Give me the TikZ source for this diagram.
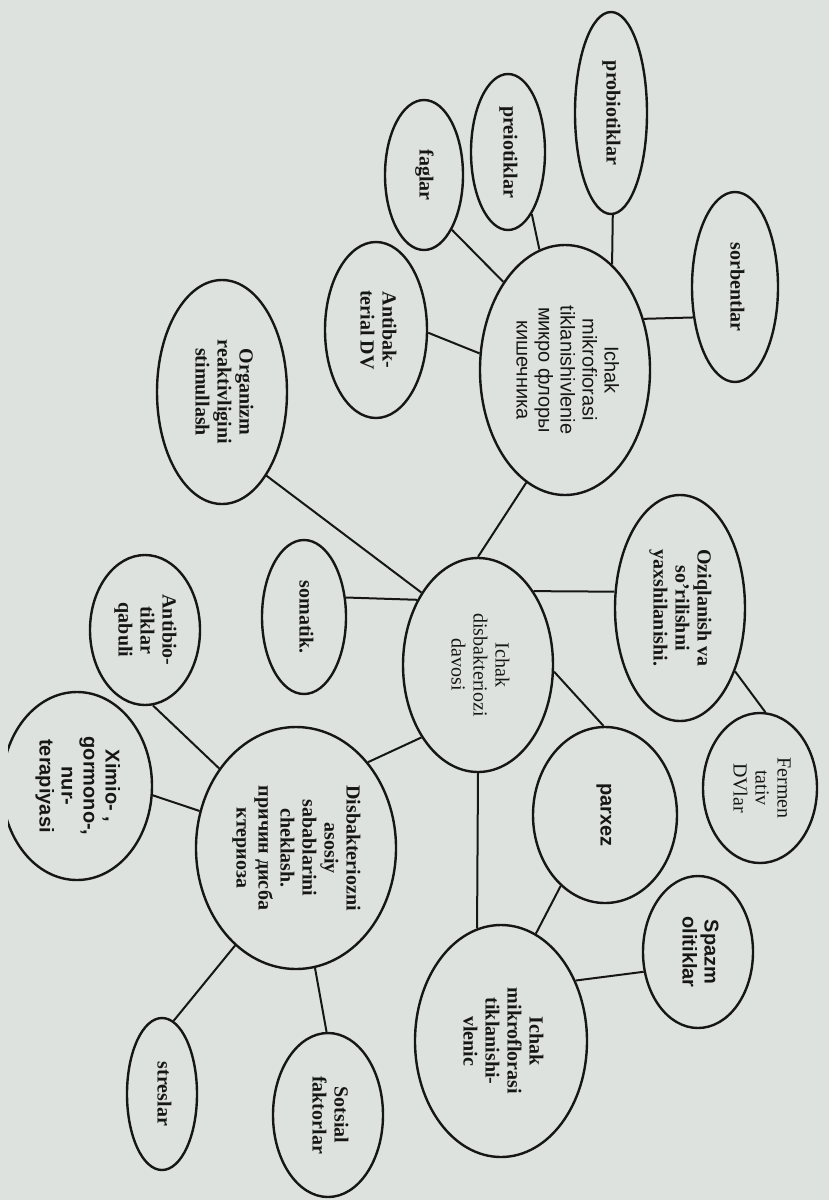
\documentclass[tikz,border=0pt]{standalone}
\usepackage{fontspec}
\setmainfont{Liberation Serif}
\setsansfont{Liberation Sans}
\usepackage{graphicx}
\usetikzlibrary{shapes.geometric}
\definecolor{paper}{RGB}{222,226,223}
\definecolor{ink}{RGB}{22,22,22}
\newcommand{\vlab}[1]{\rotatebox{-90}{\begin{tabular}{@{}c@{}}#1\end{tabular}}}

\begin{document}
\begin{tikzpicture}[x=0.5pt,y=-0.5pt,
  bub/.style={draw=ink,ellipse,line width=1.2pt,inner sep=0pt,text=ink,font=\fontsize{10}{11}\selectfont},
  lnk/.style={draw=ink,line width=1pt}]
\fill[paper] (0,0) rectangle (829,1200);
\useasboundingbox (0,0) rectangle (829,1200);
\node[bub,minimum width=36pt,minimum height=101pt] (probio) at (611,113) {\vlab{\bfseries probiotiklar}};
\node[bub,minimum width=37pt,minimum height=78pt] (preio) at (508,152) {\vlab{\bfseries preiotiklar}};
\node[bub,minimum width=39pt,minimum height=75pt] (faglar) at (424,175) {\vlab{\bfseries faglar}};
\node[bub,minimum width=43pt,minimum height=95pt] (sorbent) at (735,287) {\vlab{\bfseries sorbentlar}};
\node[bub,minimum width=85pt,minimum height=125pt] (mikroTop) at (565,370) {\vlab{\sffamily Ichak\\ \sffamily mikrofiorasi\\ \sffamily tiklanishivlenie\\ \sffamily микро флоры\\ \sffamily кишечника}};
\node[bub,minimum width=51pt,minimum height=88pt] (antibak) at (376,330) {\vlab{\bfseries Antibak-\\ \bfseries terial DV}};
\node[bub,minimum width=65pt,minimum height=112pt] (organizm) at (222,392) {\vlab{\bfseries Organizm\\ \bfseries reaktivligini\\ \bfseries stimullash}};
\node[bub,minimum width=65pt,minimum height=113pt] (oziq) at (680,608) {\vlab{\bfseries Oziqlanish va\\ \bfseries so’rilishni\\ \bfseries yaxshilanishi.}};
\node[bub,minimum width=42pt,minimum height=77pt] (somatik) at (304,617) {\vlab{\bfseries somatik.}};
\node[bub,minimum width=75pt,minimum height=107pt] (davosi) at (478,665) {\vlab{Ichak\\ disbakteriozi\\ davosi}};
\node[bub,minimum width=55pt,minimum height=75pt] (antibio) at (145,630) {\vlab{\bfseries Antibio-\\ \bfseries tiklar\\ \bfseries qabuli}};
\node[bub,minimum width=57pt,minimum height=75pt] (fermen) at (760,788) {\vlab{Fermen\\ tativ\\ DVlar}};
\node[bub,minimum width=72pt,minimum height=88pt] (parxez) at (605,815) {\vlab{\sffamily\bfseries parxez}};
\node[bub,minimum width=100pt,minimum height=121pt] (disbak) at (296,848) {\vlab{\bfseries Disbakteriozni\\ \bfseries asosiy\\ \bfseries sabablarini\\ \bfseries cheklash.\\ \bfseries причин дисба\\ \bfseries ктериоза}};
\begin{scope}
\clip (8,0) rectangle (829,1200);
\node[bub,minimum width=75pt,minimum height=94pt] (ximio) at (77,786) {\vlab{\sffamily\bfseries Ximio- ,\\ \sffamily\bfseries gormono-,\\ \sffamily\bfseries nur-\\ \sffamily\bfseries terapiyasi}};
\end{scope}
\node[bub,minimum width=55pt,minimum height=76pt] (spazm) at (698,952) {\vlab{\sffamily\bfseries Spazm\\ \sffamily\bfseries olitiklar}};
\node[bub,minimum width=86pt,minimum height=116pt] (mikroBot) at (501,1041) {\vlab{\bfseries Ichak\\ \bfseries mikroflorasi\\ \bfseries tiklanishi-\\ \bfseries vlenic}};
\node[bub,minimum width=55pt,minimum height=82pt] (sotsial) at (328,1115) {\vlab{\bfseries Sotsial\\ \bfseries faktorlar}};
\node[bub,minimum width=35pt,minimum height=76pt] (stres) at (162,1094) {\vlab{\bfseries streslar}};
\draw[lnk] (probio.-89) -- (mikroTop.66);
\draw[lnk] (preio.-69) -- (mikroTop.102);
\draw[lnk] (faglar.-63) -- (mikroTop.125);
\draw[lnk] (antibak.-3) -- (mikroTop.169);
\draw[lnk] (sorbent.216) -- (mikroTop.33);
\draw[lnk] (mikroTop.251) -- (davosi.90);
\draw[lnk] (organizm.-62) -- (davosi.128);
\draw[lnk] (somatik.25) -- (davosi.133);
\draw[lnk] (oziq.166) -- (davosi.53);
\draw[lnk] (oziq.-49) -- (fermen.86);
\draw[lnk] (davosi.-5) -- (parxez.91);
\draw[lnk] (davosi.270) -- (mikroBot.102);
\draw[lnk] (parxez.238) -- (mikroBot.72);
\draw[lnk] (spazm.200) -- (mikroBot.39);
\draw[lnk] (disbak.50) -- (davosi.232);
\draw[lnk] (antibio.-84) -- (disbak.134);
\draw[lnk] (ximio.-7) -- (disbak.159);
\draw[lnk] (disbak.238) -- (stres.81);
\draw[lnk] (disbak.-81) -- (sotsial.91);
\end{tikzpicture}
\end{document}
